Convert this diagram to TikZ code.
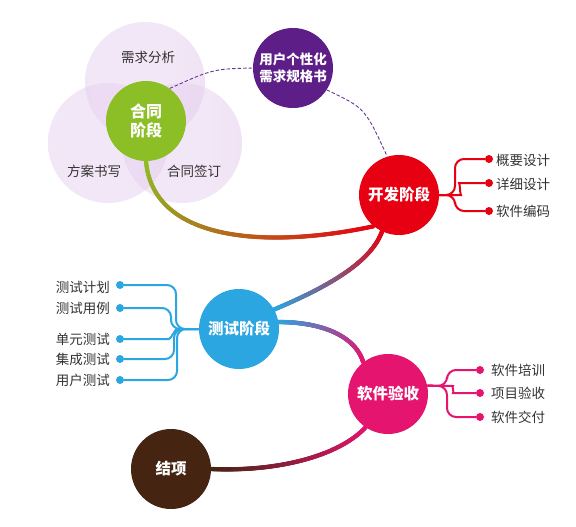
\documentclass[tikz,border=0pt]{standalone}
\usepackage{fontspec}
\setmainfont{Noto Sans CJK SC}
\usetikzlibrary{decorations.markings}

\definecolor{htgreen}{HTML}{8CBF26}
\definecolor{kfred}{HTML}{E60012}
\definecolor{csblue}{HTML}{2CA6E0}
\definecolor{rypink}{HTML}{E4146F}
\definecolor{jxbrown}{HTML}{452512}
\definecolor{yhpurple}{HTML}{5E1E87}
\definecolor{dashpurple}{HTML}{64369A}
\definecolor{vennblue}{HTML}{C2E6F2}
\definecolor{vennpink}{HTML}{E6CFEE}
\definecolor{vennlav}{HTML}{D4BAE1}
\definecolor{leafgray}{HTML}{333333}

\pgfdeclarehorizontalshading{vennshade}{100bp}{color(0bp)=(vennblue); color(28bp)=(vennpink); color(62bp)=(vennpink); color(100bp)=(vennlav)}

\pgfdeclarelayer{venn}
\pgfdeclarelayer{lines}
\pgfsetlayers{venn,lines,main}

\tikzset{
  phase/.style={circle,fill=#1,minimum size=80pt,inner sep=0pt,text=white,align=center,
    font=\fontsize{15.5}{18}\selectfont\bfseries},
  venn/.style={circle,minimum size=120pt,inner sep=0pt,shading=vennshade,fill opacity=0.5},
  leaf/.style={text=leafgray,inner sep=1pt,font=\fontsize{13.5}{16}\selectfont},
  dot/.style={circle,fill=#1,minimum size=8pt,inner sep=0pt},
  branch/.style={draw=#1,line width=2pt,rounded corners=9pt},
  fade/.style 2 args={postaction={decorate,decoration={markings,
    mark=between positions 0 and 1 step 0.004 with {
      \pgfmathtruncatemacro\fadepct{min(100,0.4*\pgfkeysvalueof{/pgf/decoration/mark info/sequence number})}
      \fill[#2!\fadepct!#1] (0,0) circle (2.2pt);}}}},
}

\begin{document}
\begin{tikzpicture}[x=1pt,y=-1pt]
\useasboundingbox (0,0) rectangle (576,527);

% venn of the contract phase
\begin{pgfonlayer}{venn}
\node[venn] (xq) at (145,82) {};
\node[venn] (fa) at (108,143) {};
\node[venn] (qd) at (182,143) {};
\end{pgfonlayer}
\node[leaf] (xqt) at (148,57) {需求分析};
\node[leaf] (fat) at (94,171) {方案书写};
\node[leaf] (qdt) at (194,171) {合同签订};

% phases
\node[phase=htgreen,font=\fontsize{16}{19}\selectfont\bfseries] (ht) at (146,121) {合同\\阶段};
\node[phase=yhpurple,font=\fontsize{13.5}{17}\selectfont\bfseries] (yh) at (293,68) {用户个性化\\需求规格书};
\node[phase=kfred] (kf) at (399,195) {开发阶段};
\node[phase=csblue] (cs) at (239,329) {测试阶段};
\node[phase=rypink] (ry) at (388,394) {软件验收};
\node[phase=jxbrown] (jx) at (171,469) {结项};

% development leaves
\node[dot=kfred] (k1) at (489,159) {};
\node[dot=kfred] (k2) at (489,183) {};
\node[dot=kfred] (k3) at (489,211) {};
\node[leaf,anchor=west] at (495,160) {概要设计};
\node[leaf,anchor=west] at (495,184) {详细设计};
\node[leaf,anchor=west] at (495,211) {软件编码};

% test leaves
\node[dot=csblue] (c1) at (120,285) {};
\node[dot=csblue] (c2) at (120,308) {};
\node[dot=csblue] (c3) at (120,339) {};
\node[dot=csblue] (c4) at (120,359) {};
\node[dot=csblue] (c5) at (120,380) {};
\node[leaf,anchor=east] at (111,287) {测试计划};
\node[leaf,anchor=east] at (111,308) {测试用例};
\node[leaf,anchor=east] at (111,339) {单元测试};
\node[leaf,anchor=east] at (111,359) {集成测试};
\node[leaf,anchor=east] at (111,380) {用户测试};

% acceptance leaves
\node[dot=rypink] (r1) at (480,370) {};
\node[dot=rypink] (r2) at (480,393) {};
\node[dot=rypink] (r3) at (480,417) {};
\node[leaf,anchor=west] at (490,370) {软件培训};
\node[leaf,anchor=west] at (490,393) {项目验收};
\node[leaf,anchor=west] at (490,417) {软件交付};

\begin{pgfonlayer}{lines}
\path[fade={htgreen}{kfred}] (ht.south) .. controls (153,242) and (268,249) .. (kf.231);
\path[fade={kfred}{csblue}] (kf.245) .. controls (370,265) and (320,290) .. (cs.29);
\path[fade={csblue}{rypink}] (cs.10) .. controls (320,322) and (355,335) .. (ry.128);
\path[fade={rypink}{jxbrown}] (ry.236) .. controls (340,455) and (280,472) .. (jx.east);

\draw[dashpurple,line width=0.9pt,dash pattern=on 3.5pt off 2pt] (ht.54) .. controls (213,69) .. (yh.west);
\draw[dashpurple,line width=0.9pt,dash pattern=on 3.5pt off 2pt] (yh.-33) .. controls (365,108) .. (kf.107);

\draw[branch=kfred] (kf.east) -- (455,195) |- (k1);
\draw[branch=kfred] (kf.east) -- (452,195) to[out=0,in=180] (468,183) -- (k2);
\draw[branch=kfred] (kf.east) -- (455,195) |- (k3);

\draw[branch=csblue] (cs.west) -- (176,329) |- (c1);
\draw[branch=csblue] (cs.west) -- (171,329) |- (c2);
\draw[branch=csblue] (cs.west) -- (186,329) to[out=180,in=0] (160,339) -- (c3);
\draw[branch=csblue] (cs.west) -- (174,329) |- (c4);
\draw[branch=csblue] (cs.west) -- (177,329) |- (c5);

\draw[branch=rypink] (ry.12) -- (447,386) |- (r1);
\draw[branch=rypink] (ry.12) -- (444,386) to[out=0,in=180] (462,393) -- (r2);
\draw[branch=rypink] (ry.12) -- (447,386) |- (r3);
\end{pgfonlayer}
\end{tikzpicture}
\end{document}
